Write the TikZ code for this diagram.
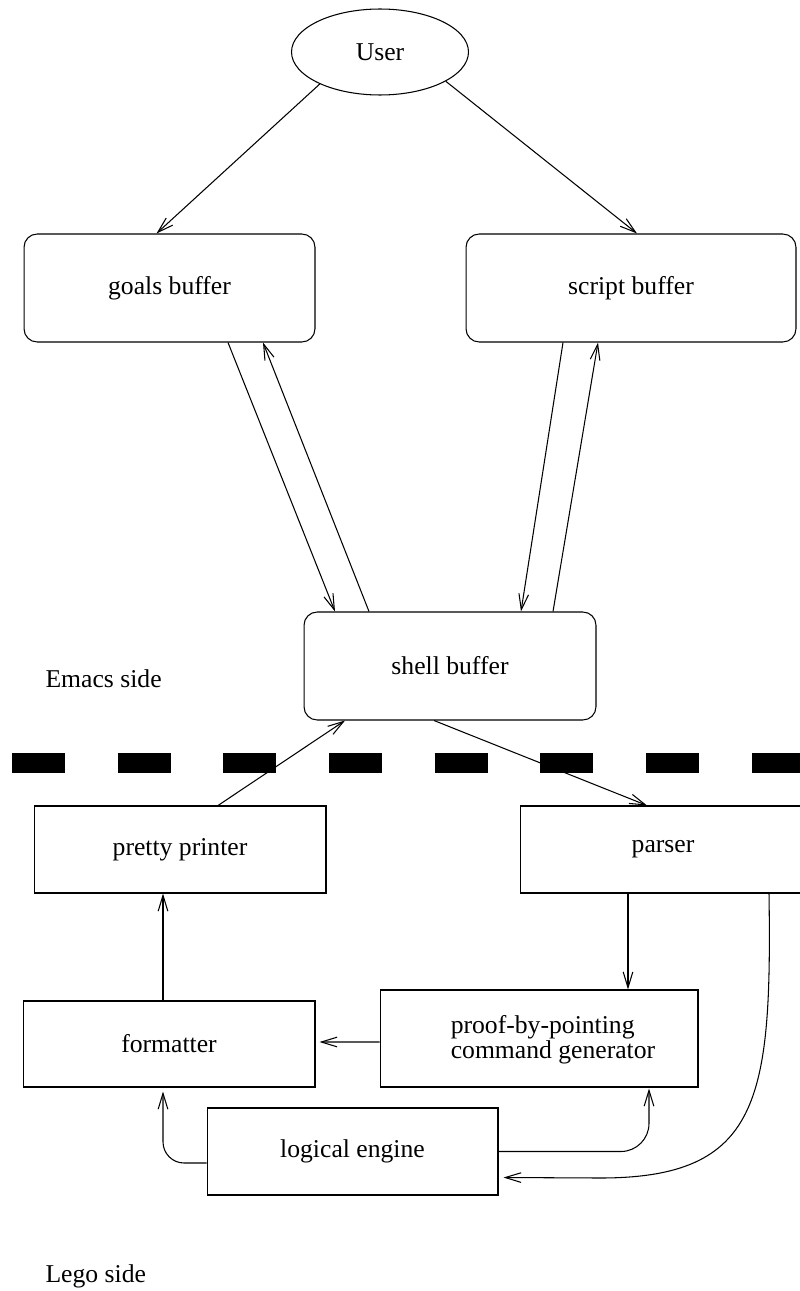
\documentclass[tikz,border=0pt]{standalone}
\usepackage{fontspec}
\setmainfont{Liberation Serif}
\usetikzlibrary{positioning,arrows.meta,calc,shapes.geometric}

\tikzset{
  buf/.style={draw,rounded corners=7.5pt,minimum width=5.84cm,minimum height=2.16cm},
  blk/.style={draw,minimum width=5.84cm,minimum height=1.74cm},
  arr/.style={-{Straight Barb[length=9pt,width=5.5pt]}},
}

\begin{document}
\begin{tikzpicture}[x=0.02cm,y=-0.02cm,line width=0.6pt,font=\fontsize{14.6pt}{14.4pt}\selectfont]
\useasboundingbox (0,0) rectangle (800,1291);
% emacs side
\node[draw,ellipse,minimum width=3.54cm,minimum height=1.72cm,inner sep=0pt] (user) at (380,52) {User};
\node[buf,minimum width=5.82cm] (goals) at (169.5,288) {goals buffer};
\node[buf,minimum width=6.6cm] (script) at (631,288) {script buffer};
\node[buf] (shell) at (450,666) {shell buffer};
\node[anchor=base west,inner sep=0pt] (emacs) at (45,687) {Emacs side};
% the border
\draw[line width=11.3pt,dash pattern=on 1.06cm off 1.054cm] (12,763) -- (806,763);
% lego side
\node[blk] (pretty) at (180,849.5) {pretty printer};
\node[blk,minimum width=5.72cm] (parser) at (663,849.5) {parser};
\node[blk,minimum height=1.72cm] (formatter) at (169,1044) {formatter};
\node[blk,minimum width=6.36cm,minimum height=1.94cm] (pbp) at (539,1038.5) {};
\node[align=left] (pbptext) at (553,1040) {proof-by-pointing\\command generator};
\node[blk,minimum width=5.82cm] (logical) at (352.5,1151.5) {logical engine};
\node[anchor=base west,inner sep=0pt] (lego) at (45,1282) {Lego side};

\draw[arr] (user.208) -- ($(goals.north)+(-13,0)$);
\draw[arr] (user.336) -- ($(script.north)+(6,0)$);
\draw[arr] ($(goals.south)+(58.5,0)$) -- ($(shell.north)+(-115,0)$);
\draw[arr] ($(shell.north)+(-81,0)$) -- ($(goals.south)+(93.5,0)$);
\draw[arr] ($(script.south)+(-68,0)$) -- ($(shell.north)+(71,0)$);
\draw[arr] ($(shell.north)+(103,0)$) -- ($(script.south)+(-33,0)$);
\draw[arr] ($(pretty.north)+(38,0)$) -- ($(shell.south)+(-105,0)$);
\draw[arr] ($(shell.south)+(-16,0)$) -- ($(parser.north)+(-16,0)$);
\draw[arr] ($(formatter.north)+(-6,0)$) -- ($(pretty.south)+(-17,0)$);
\draw[arr] ($(pbp.west)+(0,3.5)$) -- ($(formatter.east)+(4,-2)$);
\draw[arr] ($(parser.south)+(-35,0)$) -- ($(pbp.north)+(89,0)$);
\draw[arr,rounded corners=12pt] ($(logical.west)+(0,11.5)$) -| ($(formatter.south)+(-6,4)$);
\draw[arr,rounded corners=16pt] (logical.east) -| ($(pbp.south)+(110,1)$);
\draw[arr] ($(parser.south)+(106,0)$) .. controls (772,1100) and (760,1178) .. (600,1178) -- ($(logical.east)+(5,26)$);
\end{tikzpicture}
\end{document}
